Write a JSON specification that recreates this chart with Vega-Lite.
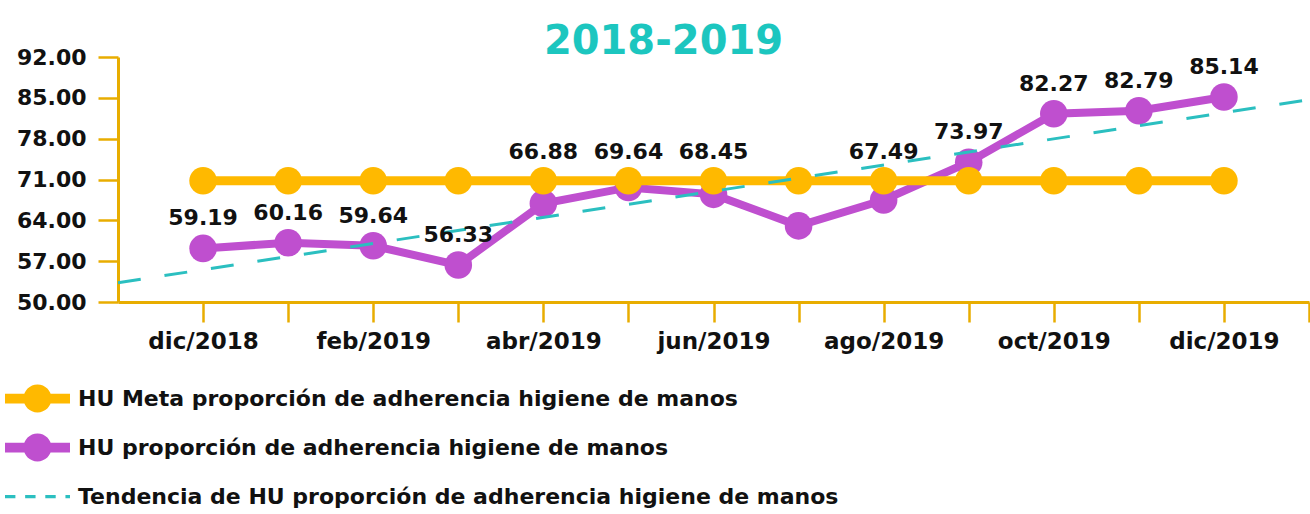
{
  "$schema": "https://vega.github.io/schema/vega-lite/v6.json",
  "width": 1191,
  "height": 245,
  "autosize": {"type": "none"},
  "padding": {"left": 118, "top": 57, "right": 1, "bottom": 212},
  "background": "white",
  "title": {
    "text": "2018-2019",
    "font": "DejaVu Sans",
    "fontWeight": "bold",
    "fontSize": 40,
    "color": "#1CC6BF",
    "anchor": "middle",
    "frame": "group",
    "dx": -50,
    "dy": 50,
    "offset": 2,
    "baseline": "alphabetic"
  },
  "config": {"view": {"stroke": null}},
  "datasets": {
    "mensual": [
      {"mes": "dic/2018", "i": 0, "meta": 70.8, "hu": 59.19},
      {"mes": "ene/2019", "i": 1, "meta": 70.8, "hu": 60.16},
      {"mes": "feb/2019", "i": 2, "meta": 70.8, "hu": 59.64},
      {"mes": "mar/2019", "i": 3, "meta": 70.8, "hu": 56.33},
      {"mes": "abr/2019", "i": 4, "meta": 70.8, "hu": 66.88},
      {"mes": "may/2019", "i": 5, "meta": 70.8, "hu": 69.64},
      {"mes": "jun/2019", "i": 6, "meta": 70.8, "hu": 68.45},
      {"mes": "jul/2019", "i": 7, "meta": 70.8, "hu": 63.05},
      {"mes": "ago/2019", "i": 8, "meta": 70.8, "hu": 67.49},
      {"mes": "sep/2019", "i": 9, "meta": 70.8, "hu": 73.97},
      {"mes": "oct/2019", "i": 10, "meta": 70.8, "hu": 82.27},
      {"mes": "nov/2019", "i": 11, "meta": 70.8, "hu": 82.79},
      {"mes": "dic/2019", "i": 12, "meta": 70.8, "hu": 85.14}
    ],
    "tendencia": [
      {"i": -1, "v": 53.3},
      {"i": 13, "v": 84.7}
    ],
    "series": [
      {"serie": "HU Meta proporción de adherencia higiene de manos"},
      {"serie": "HU proporción de adherencia higiene de manos"},
      {"serie": "Tendencia de HU proporción de adherencia higiene de manos"}
    ]
  },
  "layer": [
    {
      "data": {"name": "mensual"},
      "mark": {"type": "line", "color": "#BF4FCF", "strokeWidth": 8},
      "encoding": {
        "x": {
          "field": "i", "type": "quantitative", "title": null,
          "scale": {"domain": [-1, 13], "nice": false, "zero": false},
          "axis": {
            "values": [0,1,2,3,4,5,6,7,8,9,10,11,12,13],
            "labelExpr": "['dic/2018','','feb/2019','','abr/2019','','jun/2019','','ago/2019','','oct/2019','','dic/2019',''][datum.value]",
            "title": null, "grid": false,
            "domainColor": "#E8AD00", "domainWidth": 3,
            "tickColor": "#E8AD00", "tickWidth": 2.5, "tickSize": 20,
            "labelFont": "DejaVu Sans", "labelFontWeight": "bold", "labelFontSize": 23, "labelColor": "#111111",
            "labelPadding": 8, "labelOverlap": false, "labelFlush": false, "labelBound": false
          }
        },
        "y": {
          "field": "hu", "type": "quantitative", "title": null,
          "scale": {"domain": [50, 92], "nice": false, "zero": false},
          "axis": {
            "values": [50, 57, 64, 71, 78, 85, 92],
            "format": ".2f",
            "title": null, "grid": false,
            "domainColor": "#E8AD00", "domainWidth": 3,
            "tickColor": "#E8AD00", "tickWidth": 2.5, "tickSize": 20,
            "labelFont": "DejaVu Sans", "labelFontWeight": "bold", "labelFontSize": 22, "labelColor": "#111111",
            "labelPadding": 12
          }
        }
      }
    },
    {
      "data": {"name": "mensual"},
      "mark": {"type": "point", "filled": true, "color": "#BF4FCF", "opacity": 1, "size": 760},
      "encoding": {
        "x": {"field": "i", "type": "quantitative", "title": null},
        "y": {"field": "hu", "type": "quantitative", "title": null}
      }
    },
    {
      "data": {"name": "mensual"},
      "mark": {"type": "line", "color": "#FFB900", "strokeWidth": 9},
      "encoding": {
        "x": {"field": "i", "type": "quantitative", "title": null},
        "y": {"field": "meta", "type": "quantitative", "title": null}
      }
    },
    {
      "data": {"name": "mensual"},
      "mark": {"type": "point", "filled": true, "color": "#FFB900", "opacity": 1, "size": 760},
      "encoding": {
        "x": {"field": "i", "type": "quantitative", "title": null},
        "y": {"field": "meta", "type": "quantitative", "title": null}
      }
    },
    {
      "data": {"name": "tendencia"},
      "mark": {"type": "line", "color": "#2BBFC0", "strokeWidth": 3, "strokeDash": [23, 24]},
      "encoding": {
        "x": {"field": "i", "type": "quantitative", "title": null},
        "y": {"field": "v", "type": "quantitative", "title": null}
      }
    },
    {
      "data": {"name": "mensual"},
      "transform": [{"filter": "(datum.hu < 64 || datum.hu > 72) && datum.mes != 'jul/2019'"}],
      "mark": {"type": "text", "font": "DejaVu Sans", "fontWeight": "bold", "fontSize": 22, "color": "#111111", "baseline": "alphabetic", "align": "center", "dy": -23},
      "encoding": {
        "x": {"field": "i", "type": "quantitative", "title": null},
        "y": {"field": "hu", "type": "quantitative", "title": null},
        "text": {"field": "hu", "type": "quantitative", "format": ".2f"}
      }
    },
    {
      "data": {"name": "mensual"},
      "transform": [{"filter": "datum.hu >= 64 && datum.hu <= 72 && datum.mes != 'jul/2019'"}],
      "mark": {"type": "text", "font": "DejaVu Sans", "fontWeight": "bold", "fontSize": 22, "color": "#111111", "baseline": "alphabetic", "align": "center", "dy": -22},
      "encoding": {
        "x": {"field": "i", "type": "quantitative", "title": null},
        "y": {"field": "meta", "type": "quantitative", "title": null},
        "text": {"field": "hu", "type": "quantitative", "format": ".2f"}
      }
    },
    {
      "data": {"name": "series"},
      "mark": {"type": "point", "filled": true, "opacity": 1, "clip": true, "size": 100},
      "encoding": {
        "x": {"datum": -5, "type": "quantitative", "title": null},
        "y": {"datum": 0, "type": "quantitative", "title": null},
        "color": {
          "field": "serie", "type": "nominal",
          "scale": {
            "domain": ["HU Meta proporción de adherencia higiene de manos", "HU proporción de adherencia higiene de manos", "Tendencia de HU proporción de adherencia higiene de manos"],
            "range": ["#FFB900", "#BF4FCF", "#2BBFC0"]
          },
          "legend": {
            "orient": "none", "legendX": -113, "legendY": 309, "direction": "vertical", "title": null,
            "symbolSize": 4225, "symbolStrokeWidth": 0, "symbolOpacity": 1,
            "labelFont": "DejaVu Sans", "labelFontWeight": "bold", "labelFontSize": 22, "labelColor": "#111111",
            "labelLimit": 1000, "labelOffset": 8, "rowPadding": 2
          }
        },
        "shape": {
          "field": "serie", "type": "nominal",
          "scale": {
            "domain": ["HU Meta proporción de adherencia higiene de manos", "HU proporción de adherencia higiene de manos", "Tendencia de HU proporción de adherencia higiene de manos"],
            "range": [
              "M-1,-0.15L1,-0.15L1,0.15L-1,0.15Z M0.43,0A0.43,0.43,0,1,1,-0.43,0A0.43,0.43,0,1,1,0.43,0Z",
              "M-1,-0.15L1,-0.15L1,0.15L-1,0.15Z M0.43,0A0.43,0.43,0,1,1,-0.43,0A0.43,0.43,0,1,1,0.43,0Z",
              "M-1,-0.05L-0.68,-0.05L-0.68,0.05L-1,0.05Z M-0.38,-0.05L-0.06,-0.05L-0.06,0.05L-0.38,0.05Z M0.24,-0.05L0.56,-0.05L0.56,0.05L0.24,0.05Z M0.86,-0.05L1,-0.05L1,0.05L0.86,0.05Z"
            ]
          },
          "legend": {
            "orient": "none", "legendX": -113, "legendY": 309, "direction": "vertical", "title": null,
            "symbolSize": 4225, "symbolStrokeWidth": 0, "symbolOpacity": 1,
            "labelFont": "DejaVu Sans", "labelFontWeight": "bold", "labelFontSize": 22, "labelColor": "#111111",
            "labelLimit": 1000, "labelOffset": 8, "rowPadding": 2
          }
        }
      }
    }
  ]
}
